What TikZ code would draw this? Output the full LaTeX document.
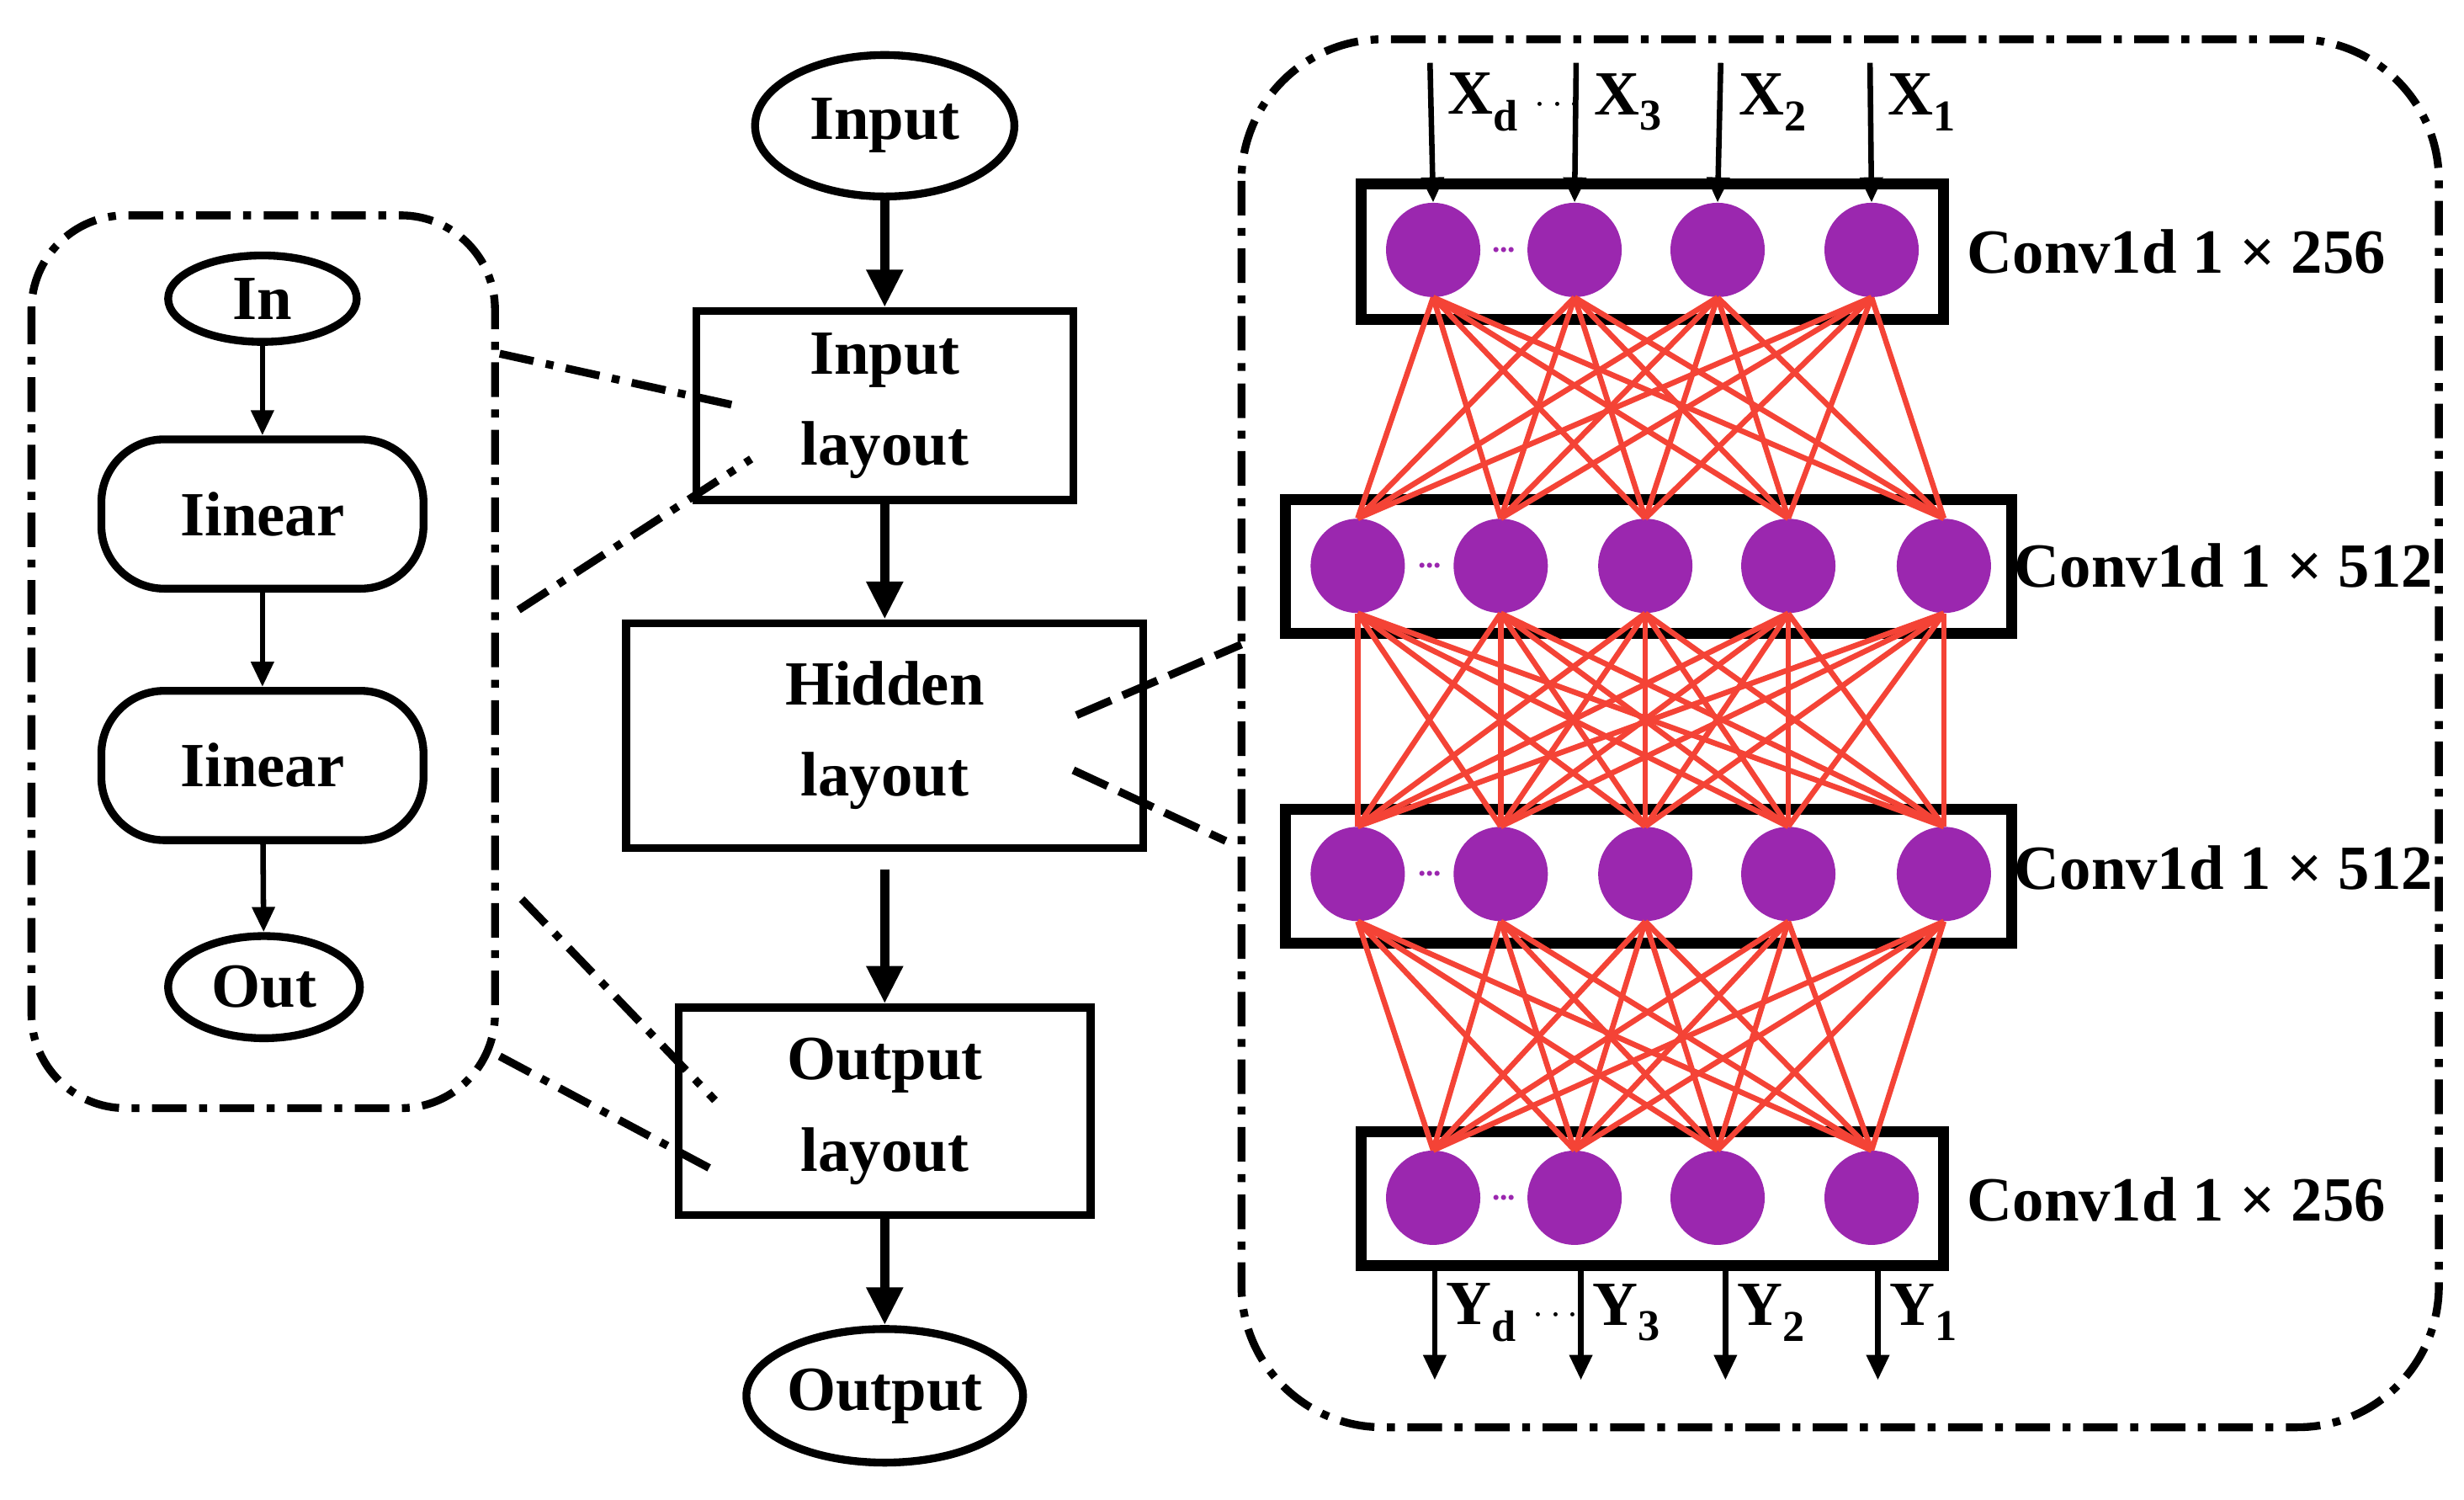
\documentclass[tikz,border=0pt]{standalone}
\usepackage{fontspec}
\setmainfont{Liberation Serif}
\usetikzlibrary{arrows.meta,calc,shapes.geometric}
\definecolor{pur}{HTML}{9B27AF}
\definecolor{rd}{HTML}{F44336}
\begin{document}
\begin{tikzpicture}[x=1pt,y=-1pt,
  every node/.style={font=\fontsize{40}{58}\selectfont\bfseries},
  box/.style={draw,line width=5pt,inner sep=0pt,align=center},
  ell/.style={draw,ellipse,line width=5pt,inner sep=0pt},
  thin/.style={line width=3.5pt,-{Triangle[length=16pt,width=14pt]}},
  thick/.style={line width=6pt,-{Triangle[length=24pt,width=22pt]}},
  dd/.style={line width=5pt,dash pattern=on 22pt off 8pt on 5pt off 8pt},
  dl/.style={line width=5pt,dash pattern=on 24pt off 8pt},
  neu/.style={circle,fill=pur,minimum size=60pt,inner sep=0pt},
  lay/.style={draw,line width=7pt},
  con/.style={rd,line width=3.5pt}]
\useasboundingbox (0,0) rectangle (1568,954);
% left group
\draw[dd,rounded corners=60pt] (20,137) rectangle (315,705);
\node[ell,minimum width=120pt,minimum height=55pt] (in) at (167,190) {In};
\node[box,rounded corners=40pt,minimum width=205pt,minimum height=95pt] (l1) at (167,327) {Iinear};
\node[box,rounded corners=40pt,minimum width=205pt,minimum height=95pt] (l2) at (167,487) {Iinear};
\node[ell,minimum width=122pt,minimum height=65pt] (out) at (168,628) {Out};
\draw[thin] (in) -- (l1);
\draw[thin] (l1) -- (l2);
\draw[thin] (l2) -- (out);
% middle
\node[ell,minimum width=165pt,minimum height=90pt] (I) at (563,80) {Input};
\node[box,minimum width=240pt,minimum height=120pt] (IL) at (563,258) {Input\\layout};
\node[box,minimum width=329pt,minimum height=143pt] (HL) at (563,468) {Hidden\\layout};
\node[box,minimum width=262pt,minimum height=132pt] (OL) at (563,707) {Output\\layout};
\node[ell,minimum width=165pt,minimum height=85pt] (O) at (563,888) {Output};
\draw[thick] (I) -- (IL);
\draw[thick] (IL) -- (HL);
\coordinate (hs) at (563,553);
\draw[thick] (hs) -- (OL);
\draw[thick] (OL) -- (O);
\coordinate (a1) at (318,225); \coordinate (a2) at (468,258);
\coordinate (b1) at (330,388); \coordinate (b2) at (478,292);
\coordinate (c1) at (332,572); \coordinate (c2) at (455,700);
\coordinate (d1) at (318,672); \coordinate (d2) at (455,745);
\draw[dd] (a1) -- (a2); \draw[dd] (b1) -- (b2);
\draw[dd] (c1) -- (c2); \draw[dd] (d1) -- (d2);
\coordinate (e1) at (685,455); \coordinate (e2) at (790,410);
\coordinate (f1) at (683,490); \coordinate (f2) at (780,535);
\draw[dl] (e1) -- (e2); \draw[dl] (f1) -- (f2);
% right group
\draw[dd,rounded corners=90pt] (790,25) rectangle (1552,908);
\draw[lay] (866,117) rectangle (1237,203);
\draw[lay] (818,318) rectangle (1280,403);
\draw[lay] (818,515) rectangle (1280,600);
\draw[lay] (866,720) rectangle (1237,805);
\foreach \x [count=\i] in {912,1002,1093,1191}{\node[neu] (p\i) at (\x,159) {}; \node[neu] (s\i) at (\x,762) {};}
\foreach \x [count=\i] in {864,955,1047,1138,1237}{\node[neu] (q\i) at (\x,360) {}; \node[neu] (r\i) at (\x,556) {};}
\foreach \i in {1,...,4}{\foreach \j in {1,...,5}{
  \draw[con] (p\i.south) -- (q\j.north);
  \draw[con] (r\j.south) -- (s\i.north);}}
\foreach \i in {1,...,5}{\foreach \j in {1,...,5}{\draw[con] (q\i.south) -- (r\j.north);}}
\foreach \p in {(957,159),(910,360),(910,556),(957,762)}{\node[text=pur,font=\fontsize{20}{20}\selectfont\bfseries] at \p {...};}
\node (c1l) at (1385,160) {Conv1d 1 × 256};
\node (c2l) at (1415,360) {Conv1d 1 × 512};
\node (c3l) at (1415,552) {Conv1d 1 × 512};
\node (c4l) at (1385,763) {Conv1d 1 × 256};
\foreach \x/\t [count=\i] in {910/{X$_\mathbf{d}$ $\cdots$},1003/X$_\mathbf{3}$,1095/X$_\mathbf{2}$,1190/X$_\mathbf{1}$}{
  \coordinate (xt\i) at (\x,40);
  \draw[thin] (xt\i) -- (p\i.north);
  \node[anchor=west] (xl\i) at (\x+8,65) {\t};}
\foreach \x/\t [count=\i] in {913/{Y$_\mathbf{d}$ $\cdots$},1006/Y$_\mathbf{3}$,1098/Y$_\mathbf{2}$,1195/Y$_\mathbf{1}$}{
  \coordinate (yb\i) at (\x,878);
  \coordinate (yt\i) at (\x,808);
  \draw[thin] (yt\i) -- (yb\i);
  \node[anchor=west] (yl\i) at (\x+4,835) {\t};}
\end{tikzpicture}
\end{document}
